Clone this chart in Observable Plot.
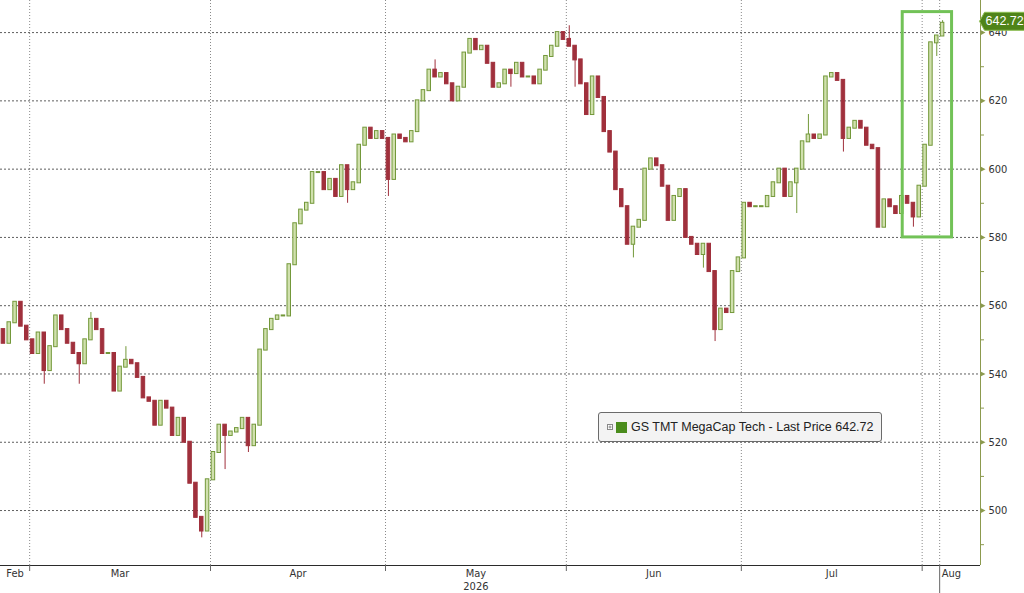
<!DOCTYPE html>
<html><head><meta charset="utf-8">
<script src="https://cdn.jsdelivr.net/npm/d3@7"></script>
<script src="https://cdn.jsdelivr.net/npm/@observablehq/plot@0.6"></script>
<style>
html,body{margin:0;padding:0;background:#fff;}
#wrap{position:relative;width:1024px;height:593px;overflow:hidden;background:#fff;}
#legend{position:absolute;left:598px;top:412px;width:284px;height:30px;box-sizing:border-box;border:1px solid #6b6b6b;border-radius:3px;background:#f3f3f3;font:12.5px "Liberation Sans",Arial,sans-serif;color:#222;display:flex;align-items:center;padding-left:8px;white-space:nowrap;}
#legend .sw{display:inline-block;width:11px;height:11px;background:#4a8c1c;margin:0 4px 0 3px;}
</style></head>
<body><div id="wrap"><div id="legend"><svg width="6" height="6" viewBox="0 0 6 6"><rect x="0.5" y="0.5" width="5" height="5" fill="#fff" stroke="#888"/><path d="M1.5,3H4.5M3,1.5V4.5" stroke="#888"/></svg><span class="sw"></span><span id="legtext"></span></div></div>
<script>
// ---- data (daily closes) ----
const firstOpen = 553;
const febCloses = [549, 555, 561, 554, 550];                 // Feb 24-28
const marCloses = [546, 552, 541, 548, 557, 553, 549, 546, 543, 550, 556, 553, 546, 546, 535, 542,
                   544, 543, 539, 533, 532, 525, 532, 530, 522, 527, 520, 508, 498, 494, 509];
const aprCloses = [517, 525, 522, 523, 524, 527, 519, 525, 547, 553, 556, 557, 557, 572, 584, 588,
                   590, 599, 599, 594, 597, 592, 601, 594, 596, 607, 612, 609, 611, 609];
const mayCloses = [597, 610, 609, 608, 611, 620, 623, 629, 627, 628, 625, 620, 624, 634, 638, 635,
                   636, 631, 624, 625, 629, 628, 631, 627, 627, 625, 629, 633, 636, 640, 638];
const junCloses = [636, 632, 625, 616, 627, 621, 611, 605, 594, 589, 578, 583, 585, 600, 603, 601,
                   595, 585, 592, 594, 580, 578, 575, 578, 570, 553, 559, 558, 570, 574];
const julCloses = [590, 589, 589, 589, 592, 596, 600, 592, 596, 600, 608, 610, 609, 610, 627, 628,
                   626, 609, 612, 614, 612, 607, 606, 583, 591, 589, 587, 592, 590, 586, 595];
const augCloses = [607, 637, 639, 642.72];
const monthStartDates = ["2026-02-24", "2026-03-01", "2026-04-01", "2026-05-01", "2026-06-01", "2026-07-01", "2026-08-01"];

// intraday extremes (wicks) where visible
const wickDates = ["2026-03-03","2026-03-09","2026-03-11","2026-03-17","2026-03-30","2026-04-03","2026-04-07",
                   "2026-04-24","2026-05-01","2026-05-09","2026-05-22","2026-06-01","2026-06-02","2026-06-12",
                   "2026-06-24","2026-06-26","2026-07-10","2026-07-12","2026-07-18","2026-07-30","2026-08-03","2026-08-04"];
const wickLows  = [537, 537, null, null, 492, 512, 517, 590, 592, null, 624, null, 624, 574, 571, 549.5, 587, null, 605, 583, 633, null];
const wickHighs = [null, null, 558, 548, null, null, null, null, null, 632, null, 642, null, null, null, null, null, 616, null, null, null, 643.5];

// axes
const yMajor = [500, 520, 540, 560, 580, 600, 620, 640];
const yMinor = [490, 510, 530, 550, 570, 590, 610, 630];
const gridDates = ["2026-03-01", "2026-04-01", "2026-05-01", "2026-06-01", "2026-07-01", "2026-08-01"];
const markerDate = "2026-08-04";
const monthNames = ["Feb", "Mar", "Apr", "May", "Jun", "Jul", "Aug"];
const monthBounds = ["2026-02-01","2026-03-01","2026-04-01","2026-05-01","2026-06-01","2026-07-01","2026-08-01","2026-09-01"];
const yearLabel = "2026";
const xDomain = ["2026-02-24", "2026-08-11"];
const yDomain = [483.9, 649.4];

// annotation box
const boxDates = ["2026-07-28T16:00:00Z", "2026-08-06T03:00:00Z"];
const boxValues = [580, 646];

const seriesName = "GS TMT MegaCap Tech - Last Price";

// ---- build ----
const DAY = 864e5;
const monthly = [febCloses, marCloses, aprCloses, mayCloses, junCloses, julCloses, augCloses];
const bars = [];
monthly.forEach((arr, m) => {
  const t0 = Date.parse(monthStartDates[m] + "T12:00:00Z");
  arr.forEach((c, k) => bars.push({date: new Date(t0 + k * DAY), close: c}));
});
const wick = new Map(wickDates.map((d, i) => [d, {lo: wickLows[i], hi: wickHighs[i]}]));
bars.forEach((b, i) => {
  b.open = i ? bars[i - 1].close : firstOpen;
  const w = wick.get(b.date.toISOString().slice(0, 10));
  b.high = Math.max(b.open, b.close, w && w.hi != null ? w.hi : -Infinity);
  b.low = Math.min(b.open, b.close, w && w.lo != null ? w.lo : Infinity);
  b.x1 = new Date(+b.date - 0.3 * DAY);
  b.x2 = new Date(+b.date + 0.3 * DAY);
});
const upBars = bars.filter(b => b.close >= b.open);
const downBars = bars.filter(b => b.close < b.open);
const last = bars[bars.length - 1];

const d0 = new Date(xDomain[0] + "T00:00:00Z"), d1 = new Date(xDomain[1] + "T00:00:00Z");
const monthLabels = monthNames.map((name, i) => {
  const a = Math.max(+d0, Date.parse(monthBounds[i] + "T00:00:00Z"));
  const b = Math.min(+d1, Date.parse(monthBounds[i + 1] + "T00:00:00Z"));
  return {label: name, mid: new Date((a + b) / 2)};
});
const mayMid = monthLabels[monthNames.indexOf("May")].mid;

const axisColor = "#8c9a4e";
const upStroke = "#73983a", upFill = "#d0e0ad";
const downStroke = "#a0303c", downFill = "#a0303c";

const arrowRight = {draw(ctx) { ctx.moveTo(0, -2.6); ctx.lineTo(5, 0); ctx.lineTo(0, 2.6); ctx.closePath(); }};
const tagShape = {draw(ctx) { ctx.moveTo(-1, 0); ctx.lineTo(4, -9); ctx.lineTo(60, -9); ctx.lineTo(60, 9); ctx.lineTo(4, 9); ctx.closePath(); }};

const chart = Plot.plot({
  width: 1024, height: 593,
  marginLeft: 0, marginRight: 44, marginTop: 0, marginBottom: 28,
  style: {fontFamily: "'DejaVu Sans Condensed', 'DejaVu Sans', sans-serif", background: "white", overflow: "visible"},
  x: {type: "utc", domain: [d0, d1], axis: null},
  y: {domain: yDomain, axis: null},
  marks: [
    Plot.ruleX(gridDates.concat([markerDate]).map(d => new Date(d + "T00:00:00Z")), {stroke: "#8a8a8a", strokeDasharray: "1,2"}),
    Plot.ruleY(yMajor, {stroke: "#5e5e5e", strokeDasharray: "2,2"}),
    Plot.ruleX(upBars, {x: "date", y1: "low", y2: "high", stroke: upStroke}),
    Plot.ruleX(downBars, {x: "date", y1: "low", y2: "high", stroke: downStroke}),
    Plot.rect(upBars, {x1: "x1", x2: "x2", y1: "open", y2: "close", fill: upFill, stroke: upStroke, insetTop: -0.5, insetBottom: -0.5}),
    Plot.rect(downBars, {x1: "x1", x2: "x2", y1: "open", y2: "close", fill: downFill, stroke: downStroke, insetTop: -0.5, insetBottom: -0.5}),
    Plot.rect([0], {x1: () => new Date(boxDates[0]), x2: () => new Date(boxDates[1]), y1: () => boxValues[0], y2: () => boxValues[1], fill: "none", stroke: "#72c257", strokeWidth: 3}),
    // axes
    Plot.ruleY([yDomain[0]], {stroke: "#2b2b2b"}),
    Plot.ruleX([d1], {stroke: axisColor}),
    Plot.axisX({ticks: gridDates.map(d => new Date(d + "T00:00:00Z")), tickSize: 6, tickFormat: () => "", stroke: "#666"}),
    Plot.axisX({ticks: [new Date(markerDate + "T00:00:00Z")], tickSize: 28, tickFormat: () => "", stroke: "#666"}),
    Plot.text(monthLabels, {x: "mid", frameAnchor: "bottom", dy: 4, lineAnchor: "top", text: "label", fontSize: 11, fill: "#333"}),
    Plot.text([yearLabel], {x: () => mayMid, frameAnchor: "bottom", dy: 17, lineAnchor: "top", text: d => d, fontSize: 11, fill: "#333"}),
    Plot.axisY({anchor: "right", ticks: yMinor, tickSize: 3, stroke: axisColor, tickFormat: () => ""}),
    Plot.axisY({anchor: "right", ticks: yMajor, tickSize: 0, tickPadding: 8, fontSize: 11, fill: "#333", tickFormat: d => String(d)}),
    Plot.dot(yMajor, {y: d => d, frameAnchor: "right", symbol: arrowRight, fill: axisColor, stroke: "none", r: 3}),
    // last price tag
    Plot.dot([last], {y: "close", frameAnchor: "right", dy: -2, symbol: tagShape, fill: "#4f8419", stroke: "#8cbd52", strokeWidth: 1, r: 5}),
    Plot.text([last], {y: "close", frameAnchor: "right", dx: 5, dy: -2, textAnchor: "start", text: d => d.close.toFixed(2), fill: "white", fontSize: 12.5, fontFamily: "'Liberation Sans', Arial, sans-serif"})
  ]
});
document.getElementById("wrap").prepend(chart);
document.getElementById("legtext").textContent = seriesName + " " + last.close.toFixed(2);
</script>
</body></html>
